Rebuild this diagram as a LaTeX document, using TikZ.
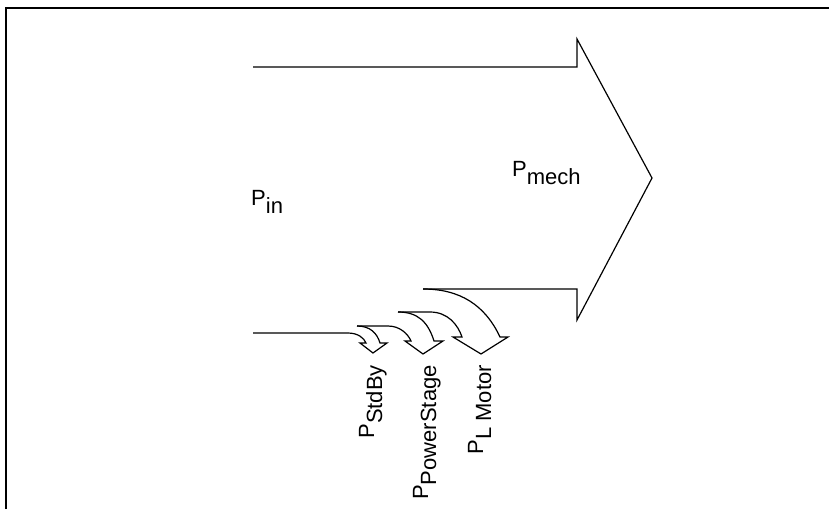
\documentclass[tikz,border=0pt]{standalone}
\usepackage{fontspec}
\setmainfont{Liberation Sans}
\newcommand\lowsub[1]{\raisebox{-8pt}{#1}}
\begin{document}
\begin{tikzpicture}[x=1pt,y=-1pt,
  lineart/.style={line width=1.2pt,line join=miter},
  lbl/.style={inner sep=0pt,font=\fontsize{22}{26}\selectfont},
  vlbl/.style={lbl,rotate=90,anchor=base east}]
\useasboundingbox (0,0) rectangle (829,509);
% frame
\draw[line width=1.2pt] (6,509) -- (6,8) -- (829,8);
% main flow arrow
\draw[lineart] (253,67) -- (577,67) -- (577,39) -- (652,178) -- (577,320) -- (577,289) -- (423,289);
% loss arrows
\coordinate (b0) at (253,333);
\coordinate (b1) at (357,326);
\coordinate (b2) at (398,312);
\coordinate (b3) at (423,289);
\draw[lineart] (b0) -- (348,333) .. controls (358,333) and (364,338) .. (366,343)
  -- (360,343) -- (373,353) -- (387,343) -- (380,343)
  .. controls (377,333) and (370,326) .. (b1);
\draw[lineart] (b1) -- (388,326) .. controls (400,326) and (408,334) .. (411,341)
  -- (405,341) -- (423,354) -- (443,341) -- (434,341)
  .. controls (428,322) and (418,312) .. (b2);
\draw[lineart] (b2) -- (430,312) .. controls (448,312) and (458,325) .. (462,337)
  -- (453,337) -- (481,354) -- (508,337) -- (500,337)
  .. controls (485,305) and (460,289) .. (b3);
% labels
\node[lbl,anchor=base west] (pin) at (251,205) {P\lowsub{in}};
\node[lbl,anchor=base west] (pmech) at (512,176) {P\lowsub{mech}};
\node[vlbl] (pstd) at (374,365) {P\lowsub{StdBy}};
\node[vlbl] (pps) at (428,365) {P\lowsub{PowerStage}};
\node[vlbl] (plm) at (483,365) {P\lowsub{L Motor}};
\end{tikzpicture}
\end{document}
